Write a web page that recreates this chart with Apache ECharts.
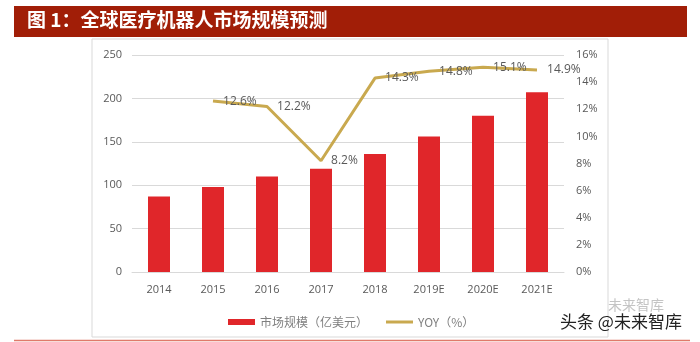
<!DOCTYPE html>
<html><head><meta charset="utf-8">
<script src="https://cdn.jsdelivr.net/npm/echarts@6/dist/echarts.min.js"></script>
<style>html,body{margin:0;padding:0;background:#fff}#c{width:700px;height:342px}</style>
</head><body><div id="c"></div>
<script>
var categories = ['2014','2015','2016','2017','2018','2019E','2020E','2021E'];
var marketSize = [87, 98, 110, 119, 136, 156, 180, 207];
var yoy = [null, 12.6, 12.2, 8.2, 14.3, 14.8, 15.1, 14.9];
var leftTicks = [0, 50, 100, 150, 200, 250];
var rightTicks = [0, 2, 4, 6, 8, 10, 12, 14, 16];

var chart = echarts.init(document.getElementById('c'), null, {renderer: 'canvas'});
chart.setOption({
  animation: false,
  backgroundColor: '#fff',
  graphic: [
    {type: 'rect', shape: {x: 14, y: 6, width: 673, height: 31}, style: {fill: '#a11e07'}},
    {type: 'text', left: 27, top: 10, style: {text: '图 1：全球医疗机器人市场规模预测', fill: '#fff', font: 'bold 19px "Noto Sans CJK SC"'}},
    {type: 'rect', shape: {x: 92, y: 39, width: 516, height: 298}, style: {fill: 'none', stroke: '#d9d9d9', lineWidth: 1}},
    {type: 'line', shape: {x1: 14, y1: 340.5, x2: 690, y2: 340.5}, style: {stroke: '#e07a6a', lineWidth: 1.5}},
    {type: 'text', left: 608, top: 298, style: {text: '未来智库', fill: '#c4c4c4', font: '14px "Noto Sans CJK SC"'}},
    {type: 'text', left: 560, top: 313, style: {text: '头条 @未来智库', fill: '#222', font: '17px "Noto Sans CJK SC"'}}
  ],
  legend: {
    left: 223, top: 311,
    itemWidth: 27, itemHeight: 6, itemGap: 18,
    textStyle: {color: '#7f7f7f', fontSize: 12, fontFamily: '"Noto Sans CJK SC"'},
    data: [
      {name: '市场规模（亿美元）', icon: 'rect'},
      {name: 'YOY（%）', icon: 'path://M0,0L27,0L27,3L0,3Z', itemStyle: {color: '#c9a94f'}}
    ]
  },
  grid: {left: 132, right: 136, top: 55, bottom: 70},
  xAxis: {
    type: 'category', data: categories,
    axisTick: {show: false},
    axisLine: {lineStyle: {color: '#d9d9d9'}},
    axisLabel: {color: '#595959', fontSize: 11, fontFamily: 'Open Sans', margin: 12}
  },
  yAxis: [
    {type: 'value', min: 0, max: 250, interval: 50,
     axisLine: {show: false}, axisTick: {show: false},
     splitLine: {lineStyle: {color: '#d9d9d9'}},
     axisLabel: {color: '#595959', fontSize: 11, fontFamily: 'Open Sans', margin: 10}},
    {type: 'value', min: 0, max: 16, interval: 2,
     axisLine: {show: false}, axisTick: {show: false},
     splitLine: {show: false},
     axisLabel: {color: '#595959', fontSize: 11, fontFamily: 'Open Sans', margin: 12, formatter: '{value}%'}}
  ],
  series: [
    {name: '市场规模（亿美元）', type: 'bar', data: marketSize, barWidth: 22,
     itemStyle: {color: '#e0262a'}},
    {name: 'YOY（%）', type: 'line', yAxisIndex: 1, data: yoy,
     symbol: 'circle', symbolSize: 0.1, connectNulls: false,
     lineStyle: {color: '#c9a94f', width: 3},
     itemStyle: {color: '#c9a94f'},
     label: {show: true, position: 'right', distance: 10, color: '#595959', fontSize: 12, fontFamily: 'Open Sans',
       formatter: function(p){ return p.value.toFixed(1) + '%'; }}}
  ]
});
</script></body></html>
